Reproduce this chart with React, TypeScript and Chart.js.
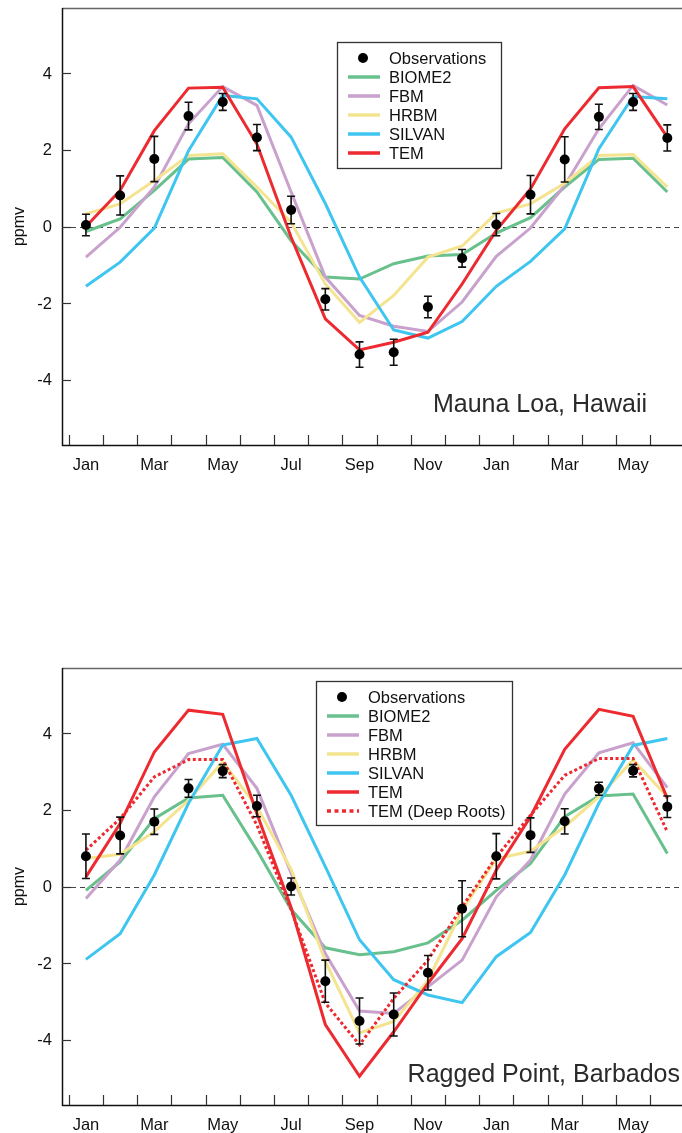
import React, { useEffect, useRef } from "react";
import { Chart, registerables } from "chart.js";

Chart.register(...registerables);

// ---------- categories / ticks ----------
const MONTH_INDEX = [0, 1, 2, 3, 4, 5, 6, 7, 8, 9, 10, 11, 12, 13, 14, 15, 16, 17];
const MONTH_LABELS = ["Jan", "Mar", "May", "Jul", "Sep", "Nov", "Jan", "Mar", "May"];
const MONTH_LABEL_POS = [0, 2, 4, 6, 8, 10, 12, 14, 16];
const MONTH_BOUNDARIES = [-0.5, 0.5, 1.5, 2.5, 3.5, 4.5, 5.5, 6.5, 7.5, 8.5, 9.5, 10.5, 11.5, 12.5, 13.5, 14.5, 15.5, 16.5];
const Y_TICKS = [4, 2, 0, -2, -4];
const Y_TICK_LABELS = ["4", "2", "0", "-2", "-4"];

// ---------- Mauna Loa, Hawaii ----------
const ML_OBS = [0.04, 0.81, 1.76, 2.88, 3.25, 2.32, 0.43, -1.9, -3.34, -3.28, -2.1, -0.83, 0.05, 0.83, 1.75, 2.86, 3.25, 2.31];
const ML_OBS_ERR = [0.28, 0.51, 0.59, 0.36, 0.22, 0.34, 0.36, 0.28, 0.33, 0.34, 0.28, 0.23, 0.29, 0.5, 0.59, 0.33, 0.22, 0.34];
const ML_BIOME2 = [-0.13, 0.2, 0.94, 1.76, 1.8, 0.9, -0.37, -1.32, -1.37, -0.97, -0.77, -0.73, -0.17, 0.23, 1.03, 1.75, 1.78, 0.9];
const ML_FBM = [-0.8, -0.02, 1.03, 2.68, 3.65, 3.16, 0.9, -1.32, -2.32, -2.6, -2.74, -1.97, -0.78, -0.04, 1.07, 2.55, 3.68, 3.17];
const ML_HRBM = [0.33, 0.59, 1.2, 1.85, 1.9, 1.03, 0.11, -1.5, -2.5, -1.8, -0.8, -0.51, 0.35, 0.59, 1.13, 1.85, 1.88, 1.03];
const ML_SILVAN = [-1.56, -0.93, -0.04, 1.98, 3.42, 3.33, 2.33, 0.6, -1.32, -2.7, -2.91, -2.48, -1.56, -0.91, -0.06, 2.03, 3.39, 3.33];
const ML_TEM = [0.0, 0.94, 2.5, 3.61, 3.63, 2.15, -0.28, -2.41, -3.22, -3.02, -2.76, -1.5, -0.1, 0.98, 2.55, 3.62, 3.65, 2.33];

// ---------- Ragged Point, Barbados ----------
const RP_OBS = [0.79, 1.33, 1.69, 2.56, 3.01, 2.1, 0.0, -2.47, -3.51, -3.34, -2.25, -0.58, 0.79, 1.34, 1.7, 2.55, 3.02, 2.08];
const RP_OBS_ERR = [0.58, 0.48, 0.33, 0.23, 0.17, 0.28, 0.22, 0.55, 0.6, 0.56, 0.45, 0.73, 0.59, 0.45, 0.33, 0.17, 0.16, 0.28];
const RP_BIOME2 = [-0.1, 0.64, 1.77, 2.31, 2.38, 0.95, -0.6, -1.6, -1.78, -1.7, -1.47, -0.88, -0.1, 0.6, 1.82, 2.36, 2.41, 0.86];
const RP_FBM = [-0.31, 0.69, 2.34, 3.47, 3.71, 2.56, 0.35, -1.75, -3.25, -3.31, -2.62, -1.92, -0.27, 0.69, 2.41, 3.49, 3.75, 2.58];
const RP_HRBM = [0.73, 0.84, 1.43, 2.25, 3.25, 2.08, 0.45, -1.95, -3.82, -3.52, -2.45, -0.62, 0.72, 0.92, 1.56, 2.34, 3.3, 2.34];
const RP_SILVAN = [-1.9, -1.23, 0.3, 2.17, 3.69, 3.86, 2.38, 0.52, -1.39, -2.43, -2.83, -3.03, -1.83, -1.2, 0.3, 2.17, 3.68, 3.86];
const RP_TEM = [0.25, 1.64, 3.51, 4.6, 4.49, 1.9, -0.55, -3.6, -4.95, -3.79, -2.53, -1.36, 0.43, 1.82, 3.58, 4.62, 4.44, 2.3];
const RP_TEM_DEEP = [0.95, 1.77, 2.86, 3.31, 3.31, 1.6, -0.6, -3.04, -4.13, -2.92, -1.92, -0.53, 0.77, 1.86, 2.9, 3.34, 3.34, 1.43];

// ---------- series names / colours ----------
const OBS_LABEL = "Observations";
const MODEL_LABELS = ["BIOME2", "FBM", "HRBM", "SILVAN", "TEM", "TEM (Deep Roots)"];
const MODEL_COLORS = ["#68c08c", "#c9a1cd", "#f4e48f", "#3ec5f0", "#ec2a30", "#ec2a30"];

const FONT = '"Liberation Sans", Arial, Helvetica, sans-serif';

type Panel = {
  obs: number[];
  err: number[];
  models: number[][];
  title: string;
  titleRight: number;
  titleBaseOffset: number;
  legend: { x: number; y: number; w: number; h: number };
  padTop: number;
  padBottom: number;
  height: number;
};

const toPoints = (vals: number[]) => MONTH_INDEX.map((m, i) => ({ x: m, y: vals[i] }));

const panelPlugin = {
  id: "panelDecor",
  beforeDatasetsDraw(chart: any) {
    const { ctx, chartArea: a, scales } = chart;
    const y0 = Math.round(scales.y.getPixelForValue(0)) + 0.5;
    ctx.save();
    ctx.strokeStyle = "#444";
    ctx.lineWidth = 1;
    ctx.setLineDash([5, 4]);
    ctx.beginPath();
    ctx.moveTo(a.left, y0);
    ctx.lineTo(a.right, y0);
    ctx.stroke();
    ctx.restore();
  },
  beforeDatasetDraw(chart: any, args: any) {
    const ds = chart.data.datasets[args.index];
    if (!ds.errors) return;
    const { ctx, scales } = chart;
    ctx.save();
    ctx.strokeStyle = "#111";
    ctx.lineWidth = 1.6;
    ds.data.forEach((p: any, i: number) => {
      const e = ds.errors[i];
      const px = scales.x.getPixelForValue(p.x);
      const top = scales.y.getPixelForValue(p.y + e);
      const bot = scales.y.getPixelForValue(p.y - e);
      ctx.beginPath();
      ctx.moveTo(px, top);
      ctx.lineTo(px, bot);
      ctx.moveTo(px - 4, top);
      ctx.lineTo(px + 4, top);
      ctx.moveTo(px - 4, bot);
      ctx.lineTo(px + 4, bot);
      ctx.stroke();
    });
    ctx.restore();
  },
  afterDraw(chart: any) {
    const { ctx, chartArea: a, scales } = chart;
    const panel: Panel = chart.options.plugins.panelDecor.panel;
    ctx.save();
    // frame
    ctx.lineWidth = 1.5;
    ctx.strokeStyle = "#666";
    ctx.beginPath();
    ctx.moveTo(a.left, a.top + 0.5);
    ctx.lineTo(a.right, a.top + 0.5);
    ctx.stroke();
    ctx.strokeStyle = "#111";
    ctx.beginPath();
    ctx.moveTo(a.left + 0.5, a.top);
    ctx.lineTo(a.left + 0.5, a.bottom + 0.5);
    ctx.lineTo(a.right, a.bottom + 0.5);
    ctx.stroke();
    // x tick marks (inside)
    ctx.lineWidth = 1.2;
    ctx.strokeStyle = "#333";
    MONTH_BOUNDARIES.forEach((b) => {
      const px = Math.round(scales.x.getPixelForValue(b)) + 0.5;
      ctx.beginPath();
      ctx.moveTo(px, a.bottom);
      ctx.lineTo(px, a.bottom - 10);
      ctx.stroke();
    });
    // y tick marks (inside)
    Y_TICKS.forEach((t) => {
      const py = Math.round(scales.y.getPixelForValue(t)) + 0.5;
      ctx.beginPath();
      ctx.moveTo(a.left, py);
      ctx.lineTo(a.left + 9, py);
      ctx.stroke();
    });
    // labels
    ctx.fillStyle = "#111";
    ctx.font = `16.5px ${FONT}`;
    ctx.textAlign = "center";
    ctx.textBaseline = "middle";
    MONTH_LABELS.forEach((lab, i) => {
      ctx.fillText(lab, scales.x.getPixelForValue(MONTH_LABEL_POS[i]), a.bottom + 20);
    });
    ctx.textAlign = "right";
    Y_TICK_LABELS.forEach((lab, i) => {
      ctx.fillText(lab, a.left - 10, scales.y.getPixelForValue(Y_TICKS[i]) + 1);
    });
    // y title
    ctx.save();
    ctx.translate(20, (a.top + a.bottom) / 2);
    ctx.rotate(-Math.PI / 2);
    ctx.textAlign = "center";
    ctx.font = `16px ${FONT}`;
    ctx.fillText("ppmv", 0, 0);
    ctx.restore();
    // station title
    ctx.fillStyle = "#2a2a2a";
    ctx.font = `25px ${FONT}`;
    ctx.textAlign = "right";
    ctx.textBaseline = "alphabetic";
    ctx.fillText(panel.title, panel.titleRight, a.bottom - panel.titleBaseOffset);
    // legend
    const L = panel.legend;
    ctx.fillStyle = "#fff";
    ctx.fillRect(L.x, L.y, L.w, L.h);
    ctx.strokeStyle = "#333";
    ctx.lineWidth = 1.3;
    ctx.strokeRect(L.x + 0.5, L.y + 0.5, L.w, L.h);
    ctx.font = `16.5px ${FONT}`;
    ctx.textAlign = "left";
    ctx.textBaseline = "middle";
    const items = chart.data.datasets.slice().sort((p: any, q: any) => p.legendOrder - q.legendOrder);
    items.forEach((ds: any, i: number) => {
      const ry = L.y + 16 + i * 19;
      if (ds.errors) {
        ctx.fillStyle = "#000";
        ctx.beginPath();
        ctx.arc(L.x + 26, ry, 5, 0, Math.PI * 2);
        ctx.fill();
      } else {
        ctx.strokeStyle = ds.borderColor;
        ctx.lineWidth = 3.5;
        ctx.setLineDash(ds.borderDash && ds.borderDash.length ? [4, 3.5] : []);
        ctx.beginPath();
        ctx.moveTo(L.x + 11, ry);
        ctx.lineTo(L.x + 43, ry);
        ctx.stroke();
        ctx.setLineDash([]);
      }
      ctx.fillStyle = "#111";
      ctx.fillText(ds.label, L.x + 52, ry + 1);
    });
    ctx.restore();
  },
};

function buildConfig(panel: Panel): any {
  const datasets: any[] = [];
  datasets.push({
    label: OBS_LABEL,
    data: toPoints(panel.obs),
    errors: panel.err,
    showLine: false,
    pointRadius: 5,
    pointBackgroundColor: "#000",
    pointBorderWidth: 0,
    borderColor: "#000",
    order: 0,
    legendOrder: 0,
  });
  panel.models.forEach((vals, i) => {
    const dashed = i === 5;
    datasets.push({
      label: MODEL_LABELS[i],
      data: toPoints(vals),
      borderColor: MODEL_COLORS[i],
      borderWidth: 3,
      borderDash: dashed ? [3, 2.5] : [],
      pointRadius: 0,
      tension: 0,
      fill: false,
      order: dashed ? 1 : 10 - i,
      legendOrder: i + 1,
    });
  });
  return {
    type: "line",
    data: { datasets },
    options: {
      responsive: false,
      animation: false,
      devicePixelRatio: 1,
      layout: { autoPadding: false, padding: { left: 62, right: 0, top: panel.padTop, bottom: panel.padBottom } },
      scales: {
        x: { type: "linear", min: -0.7, max: 17.43, display: false },
        y: { type: "linear", min: -5.7, max: 5.7, display: false },
      },
      plugins: {
        legend: { display: false },
        tooltip: { enabled: false },
        panelDecor: { panel },
      },
    },
    plugins: [panelPlugin],
  };
}

const PANEL_TOP: Panel = {
  obs: ML_OBS,
  err: ML_OBS_ERR,
  models: [ML_BIOME2, ML_FBM, ML_HRBM, ML_SILVAN, ML_TEM],
  title: "Mauna Loa, Hawaii",
  titleRight: 647,
  titleBaseOffset: 33,
  legend: { x: 337, y: 42, w: 164, h: 126 },
  padTop: 8,
  padBottom: 35,
  height: 480,
};

const PANEL_BOTTOM: Panel = {
  obs: RP_OBS,
  err: RP_OBS_ERR,
  models: [RP_BIOME2, RP_FBM, RP_HRBM, RP_SILVAN, RP_TEM, RP_TEM_DEEP],
  title: "Ragged Point, Barbados",
  titleRight: 680,
  titleBaseOffset: 23,
  legend: { x: 316, y: 41, w: 196, h: 144 },
  padTop: 28,
  padBottom: 28,
  height: 493,
};

function PanelChart({ panel, top }: { panel: Panel; top: number }) {
  const ref = useRef<HTMLCanvasElement | null>(null);
  useEffect(() => {
    if (!ref.current) return;
    const chart = new Chart(ref.current, buildConfig(panel));
    return () => chart.destroy();
  }, [panel]);
  return (
    <canvas
      ref={ref}
      width={682}
      height={panel.height}
      style={{ position: "absolute", left: 0, top, width: 682, height: panel.height }}
    />
  );
}

export default function App() {
  return (
    <div style={{ position: "absolute", left: 0, top: 0, width: 682, height: 1133, background: "#fff" }}>
      <PanelChart panel={PANEL_TOP} top={0} />
      <PanelChart panel={PANEL_BOTTOM} top={640} />
    </div>
  );
}
